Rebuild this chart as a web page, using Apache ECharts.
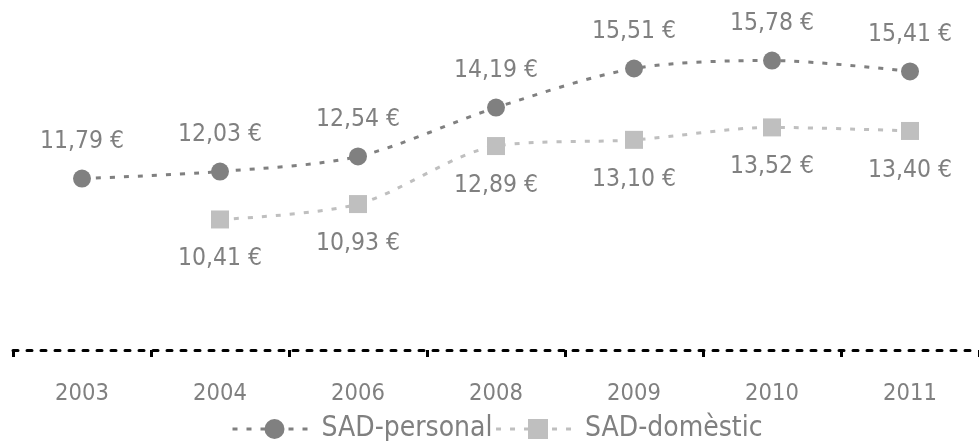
<!DOCTYPE html>
<html>
<head>
<meta charset="utf-8">
<script src="https://cdn.jsdelivr.net/npm/echarts@6/dist/echarts.min.js"></script>
<style>
html,body{margin:0;padding:0;background:#fff;}
#chart{width:979px;height:441px;}
</style>
</head>
<body>
<div id="chart"></div>
<script>
const categories = ['2003', '2004', '2006', '2008', '2009', '2010', '2011'];
const personalValues = [11.79, 12.03, 12.54, 14.19, 15.51, 15.78, 15.41];
const domesticValues = [null, 10.41, 10.93, 12.89, 13.10, 13.52, 13.40];
const seriesNames = ['SAD-personal', 'SAD-domèstic'];

const FONT = '"DejaVu Sans Condensed", "DejaVu Sans", sans-serif';
const fmt = v => v.value == null ? '' : v.value.toFixed(2).replace('.', ',') + ' €';

const chart = echarts.init(document.getElementById('chart'), null, {renderer: 'canvas'});
chart.setOption({
  animation: false,
  backgroundColor: '#ffffff',
  grid: {left: 13, top: 54, width: 980, height: 296, containLabel: false},
  legend: {
    left: 226, top: 410,
    itemWidth: 84, itemHeight: 25, itemGap: 2,
    lineStyle: {width: 3},
    textStyle: {fontFamily: FONT, fontSize: 28, color: '#808080'},
    data: seriesNames
  },
  xAxis: {
    type: 'category',
    data: categories,
    boundaryGap: true,
    axisLine: {lineStyle: {color: '#000', width: 3, type: [5, 9]}},
    axisTick: {show: true, length: 7, lineStyle: {color: '#000', width: 3}},
    axisLabel: {fontFamily: FONT, fontSize: 23.5, color: '#808080', margin: 32},
    splitLine: {show: false}
  },
  yAxis: {
    type: 'value', min: 6, max: 16,
    show: false, splitLine: {show: false}
  },
  series: [
    {
      name: seriesNames[0], type: 'line', data: personalValues, smooth: 0.3,
      symbol: 'circle', symbolSize: 18,
      itemStyle: {color: '#808080'},
      lineStyle: {color: '#808080', width: 3, type: [5, 9]},
      label: {show: true, position: 'top', distance: 15, formatter: fmt,
              fontFamily: FONT, fontSize: 24.5, color: '#808080'}
    },
    {
      name: seriesNames[1], type: 'line', data: domesticValues, smooth: 0.3,
      symbol: 'rect', symbolSize: 18, connectNulls: false,
      itemStyle: {color: '#bfbfbf'},
      lineStyle: {color: '#bfbfbf', width: 3, type: [5, 9]},
      label: {show: true, position: 'bottom', distance: 18, formatter: fmt,
              fontFamily: FONT, fontSize: 24.5, color: '#808080'}
    }
  ]
});
</script>
</body>
</html>
